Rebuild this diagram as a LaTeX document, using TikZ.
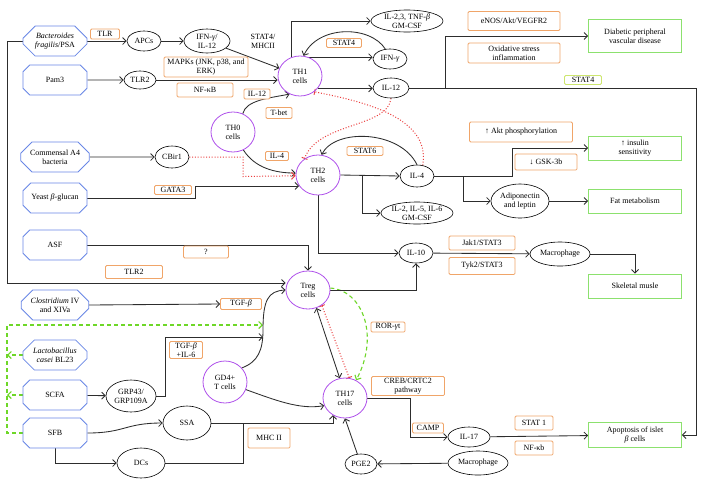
\documentclass[tikz,border=0pt]{standalone}
\usepackage{fontspec}
\setmainfont{Liberation Serif}
\usetikzlibrary{shapes.geometric,shapes.misc,arrows.meta}
\definecolor{octblue}{RGB}{105,135,230}
\definecolor{boxorange}{RGB}{240,165,105}
\definecolor{boxgreen}{RGB}{140,225,110}
\definecolor{cellpurple}{RGB}{175,80,235}
\definecolor{inhred}{RGB}{235,60,60}
\definecolor{dashgreen}{RGB}{110,215,40}
\definecolor{statgreen}{RGB}{205,230,110}
\definecolor{linegray}{RGB}{45,45,45}
\pgfdeclarelayer{bgzero}
\pgfdeclarelayer{bglines}
\pgfsetlayers{bgzero,bglines,main}
\begin{document}
\begin{tikzpicture}[x=1pt,y=-1pt,
  every node/.style={font=\fontsize{8}{9}\selectfont, align=center},
  src/.style={chamfered rectangle, chamfered rectangle xsep=10pt, draw=octblue, line width=0.8pt, minimum width=64pt, minimum height=30pt, inner sep=1pt, fill=white},
  ell/.style={ellipse, draw=black, line width=0.6pt, inner sep=0pt},
  cell/.style={ellipse, draw=cellpurple, line width=0.8pt, inner sep=0pt, minimum width=44pt, minimum height=40pt},
  res/.style={rectangle, draw=boxgreen, line width=0.8pt, minimum width=93pt, minimum height=24pt, inner sep=1pt},
  lbl/.style={rectangle, rounded corners=1.2pt, draw=boxorange, line width=0.8pt, inner sep=1pt, fill=white},
  plain/.style={inner sep=0pt},
  conn/.style={draw=linegray, line width=0.85pt},
  arr/.style={conn, -{Straight Barb[length=3.5pt,width=7pt]}},
  arrboth/.style={conn, {Straight Barb[length=3.5pt,width=7pt]}-{Straight Barb[length=3.5pt,width=7pt]}},
  inh/.style={draw=inhred, line width=1pt, dash pattern=on 1pt off 1.8pt},
  inhbar/.style={inh, -{Bar[width=6pt,line width=0.9pt]}},
  inhboth/.style={inh, {Bar[width=6pt,line width=0.9pt]}-{Bar[width=6pt,line width=0.9pt]}},
  inharr/.style={inh, -{Straight Barb[length=3.5pt,width=7pt,line width=0.9pt]}},
  gdash/.style={draw=dashgreen, line width=1.1pt, dash pattern=on 4pt off 3pt},
  garr/.style={gdash, -{Straight Barb[length=3.5pt,width=7pt]}}
]
\begin{pgfonlayer}{bgzero}
\fill[white] (0,0) rectangle (703,488);
\end{pgfonlayer}
\useasboundingbox (0,0) rectangle (703,488);

% ---------- source nodes ----------
\node[src] (bf) at (55,41) {\textit{Bacteroides}\\\textit{fragilis}/PSA};
\node[src] (pam) at (55,80) {Pam3};
\node[src] (a4) at (55,157) {Commensal A4\\bacteria};
\node[src] (yeast) at (55,198) {Yeast \textit{β}-glucan};
\node[src] (asf) at (55,245) {ASF};
\node[src] (clos) at (55,305) {\textit{Clostridium} IV\\and XIVa};
\node[src] (lacto) at (55,355) {\textit{Lactobacillus}\\\textit{casei} BL23};
\node[src] (scfa) at (55,395) {SCFA};
\node[src] (sfb) at (55,433) {SFB};

% ---------- ellipses ----------
\node[ell, minimum width=34pt, minimum height=20pt] (apcs) at (144,41) {APCs};
\node[ell, minimum width=46pt, minimum height=24pt] (ifn) at (207,41) {IFN-\textit{γ}/\\IL-12};
\node[ell, minimum width=32pt, minimum height=18pt] (tlr2) at (140,80) {TLR2};
\node[ell, minimum width=34pt, minimum height=22pt] (cbir) at (172,157) {CBir1};
\node[ell, minimum width=72pt, minimum height=22pt] (il23) at (407,21) {IL-2,3, TNF-\textit{β}\\GM-CSF};
\node[ell, minimum width=34pt, minimum height=20pt] (ifng) at (390,59) {IFN-\textit{γ}};
\node[ell, minimum width=36pt, minimum height=20pt] (il12) at (391,88) {IL-12};
\node[ell, minimum width=34pt, minimum height=22pt] (il4) at (417,176) {IL-4};
\node[ell, minimum width=72pt, minimum height=22pt] (il256) at (417,213) {IL-2, IL-5, IL-6\\GM-CSF};
\node[ell, minimum width=58pt, minimum height=34pt] (adipo) at (520,201) {Adiponectin\\and leptin};
\node[ell, minimum width=34pt, minimum height=20pt] (il10) at (416,253) {IL-10};
\node[ell, minimum width=60pt, minimum height=24pt] (mac1) at (560,254) {Macrophage};
\node[ell, minimum width=50pt, minimum height=32pt] (grp) at (131,396) {GRP43/\\GRP109A};
\node[ell, minimum width=48pt, minimum height=34pt] (ssa) at (187,423) {SSA};
\node[ell, minimum width=48pt, minimum height=30pt] (dcs) at (141,463) {DCs};
\node[ell, minimum width=32pt, minimum height=20pt] (pge2) at (361,464) {PGE2};
\node[ell, minimum width=42pt, minimum height=20pt] (il17) at (469,437) {IL-17};
\node[ell, minimum width=60pt, minimum height=24pt] (mac2) at (478,463) {Macrophage};

% ---------- cells ----------
\node[cell] (th1) at (300,76) {TH1\\cells};
\node[cell] (th0) at (233,132) {TH0\\cells};
\node[cell] (th2) at (318,175) {TH2\\cells};
\node[cell, minimum height=38pt] (treg) at (308,290) {Treg\\cells};
\node[cell, minimum height=42pt] (gd4) at (225,382) {GD4+\\T cells};
\node[cell] (th17) at (345,398) {TH17\\cells};

% ---------- outcomes ----------
\node[res, minimum height=33pt] (diab) at (635,36) {Diabetic peripheral\\vascular disease};
\node[res] (insul) at (635,148) {↑ insulin\\sensitivity};
\node[res] (fat) at (635,201) {Fat metabolism};
\node[res] (skel) at (635,286) {Skeletal musle};
\node[res, minimum height=25pt] (apop) at (635,435) {Apoptosis of islet\\\textit{β} cells};

% ---------- labels ----------
\node[lbl, minimum width=29pt, minimum height=10pt] (tlr) at (105,34) {TLR};
\node[lbl, minimum width=84pt, minimum height=20pt] (mapk) at (206,67) {MAPKs (JNK, p38, and\\ERK)};
\node[lbl, minimum width=56pt, minimum height=14pt] (nfkb) at (205,90) {NF-κB};
\node[lbl, minimum width=26pt, minimum height=10pt] (il12b) at (257,94) {IL-12};
\node[lbl, minimum width=26pt, minimum height=11pt] (tbet) at (279,113) {T-bet};
\node[lbl, minimum width=23pt, minimum height=9pt] (il4b) at (277,156) {IL-4};
\node[lbl, minimum width=35pt, minimum height=9pt] (stat4a) at (344,43) {STAT4};
\node[lbl, minimum width=36pt, minimum height=9pt] (stat6) at (365,151) {STAT6};
\node[lbl, minimum width=92pt, minimum height=19pt] (enos) at (514,21) {eNOS/Akt/VEGFR2};
\node[lbl, minimum width=92pt, minimum height=20pt] (oxid) at (514,53) {Oxidative stress\\inflammation};
\node[lbl, draw=statgreen, minimum width=37pt, minimum height=9pt] (stat4b) at (583,80) {STAT4};
\node[lbl, minimum width=103pt, minimum height=20pt] (akt) at (521,132) {↑ Akt phosphorylation};
\node[lbl, minimum width=62pt, minimum height=16pt] (gsk) at (546,162) {↓ GSK-3b};
\node[lbl, minimum width=37pt, minimum height=9pt] (gata) at (173,190) {GATA3};
\node[lbl, minimum width=45pt, minimum height=12pt] (q) at (206,252) {?};
\node[lbl, minimum width=57pt, minimum height=13pt] (tlr2b) at (134,272) {TLR2};
\node[lbl, minimum width=41pt, minimum height=11pt] (tgfb) at (241,304) {TGF-\textit{β}};
\node[lbl, minimum width=66pt, minimum height=14pt] (jak) at (482,243) {Jak1/STAT3};
\node[lbl, minimum width=66pt, minimum height=17pt] (tyk) at (482,266) {Tyk2/STAT3};
\node[lbl, minimum width=33pt, minimum height=17pt] (tgfil6) at (186,350) {TGF-\textit{β}\\+IL-6};
\node[lbl, minimum width=34pt, minimum height=10pt] (ror) at (388,327) {ROR-\textit{γ}t};
\node[lbl, minimum width=73pt, minimum height=19pt] (creb) at (408,386) {CREB/CRTC2\\pathway};
\node[lbl, minimum width=31pt, minimum height=10pt] (camp) at (428,428) {CAMP};
\node[lbl, minimum width=42pt, minimum height=20pt] (mhc) at (269,438) {MHC II};
\node[lbl, minimum width=38pt, minimum height=14pt] (stat1) at (534,423) {STAT 1};
\node[lbl, minimum width=38pt, minimum height=14pt] (nfkb2) at (534,448) {NF-κb};
\node[plain] (stmhc) at (263,41) {STAT4/\\MHCII};

% ---------- connectors ----------
\coordinate (fr1) at (7,41);
\coordinate (fr2) at (7,283);
\coordinate (j1) at (445,88);
\coordinate (j2) at (362,175);
\coordinate (j3) at (463,176);
\coordinate (gv1) at (263,325);
\coordinate (gv2) at (263,337);
\coordinate (gl1) at (7,433);
\coordinate (gl2) at (7,325);

\begin{pgfonlayer}{bglines}
\draw[arr] (bf.east) -- (apcs.west);
\draw[arr] (apcs) -- (ifn);
\draw[arr] (ifn) -- (th1);
\draw[arr] (bf.west) -- (fr1) -- (fr2) -- (fr2 -| treg.west);
\draw[arr] (pam) -- (tlr2);
\draw[arr] (tlr2.east) -- (tlr2.east -| th1.west);
\draw[arr] (th0.62) .. controls (246,100) and (270,98) .. (th1.-120);
\draw[arr] (th0.-60) .. controls (255,168) and (275,173) .. (th2.175);
\draw[arr] (a4) -- (cbir);
\draw[inharr] (cbir.east) -- (243,157) -- (243,176.5) -- (th2.-178);
\draw[arr] (yeast.east) -- (195,198) |- (th2.-150);
\draw[arr] (asf.east) -| (treg.north);
\draw[arr] (clos.east) -- (tgfb.west);

\draw[garr] (sfb.west) -- (gl1) -- (gl2) -- (gv1);
\draw[garr] (lacto.west) -- (lacto.west -| gl1);
\draw[garr] (scfa.west) -- (scfa.west -| gl1);

\draw[arr] (scfa) -- (grp);
\draw[arr] (grp.east) -- (165,396) |- (gv2);
\draw[arr] (gd4.40) .. controls (258,362) and (263,350) .. (263,330) .. controls (263,300) and (268,291) .. (treg.west);
\draw[arr] (gd4.-20) .. controls (275,400) and (300,410) .. (th17.200);
\draw[arrboth] (treg.-65) -- (th17.105);
\draw[inhboth] (treg.-48) -- (th17.78);
\draw[garr] (treg.5) .. controls (362,290) and (380,335) .. (th17.58);

\draw[arr] (sfb.east) .. controls (125,433) and (125,423) .. (ssa.west);
\draw[arr] (sfb.south) |- (dcs.west);
\draw[arr] (ssa.east) -| (th17.-125);
\draw[conn] (dcs.east) -| (243,423);
\draw[arr] (pge2.110) -- (th17.south);
\draw[arr] (mac2) -- (pge2);
\draw[arr] (th17.east) -- (410,398) |- (il17.west);
\draw[arr] (il17) -- (apop);

\draw[arr] (il12.east) -- (696,88) |- (apop.east);
\draw[arr] (j1) |- (diab.west);
\draw[arr] (th1.115) |- (il23.west);
\draw[arr] (th1.65) -- (th1.65 -| ifng.west);
\draw[arr] (ifng.115) .. controls (370,25) and (318,25) .. (th1.80);
\draw[arr] (th1.-35) -- (th1.-35 -| il12.west);
\draw[inhbar] (il12.south) .. controls (388,128) and (318,122) .. (th2.130);
\draw[inhbar] (il4.62) .. controls (432,115) and (355,100) .. (th1.-48);
\draw[arr] (il4.north) .. controls (400,130) and (335,128) .. (th2.80);
\draw[arr] (th2.east) -- (il4.west);
\draw[arr] (j2) |- (il256.west);
\draw[arr] (th2.south) |- (il10.west);
\draw[arr] (treg.east) -| (il10.south);
\draw[arr] (il4.east) -- (512,176) |- (insul.west);
\draw[arr] (j3) |- (adipo.west);
\draw[arr] (adipo) -- (fat);
\draw[arr] (il10) -- (mac1);
\draw[arr] (mac1.east) -| (skel.north);
\end{pgfonlayer}
\end{tikzpicture}
\end{document}
